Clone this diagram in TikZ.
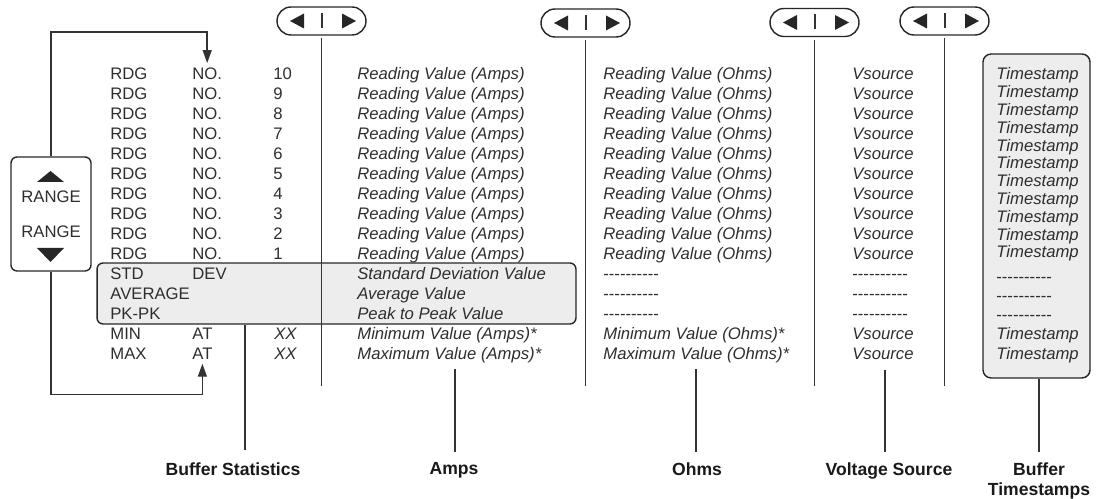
\documentclass[tikz,border=0pt]{standalone}
\usepackage{fontspec}
\setmainfont{Liberation Sans}
\usetikzlibrary{arrows.meta,positioning,calc}

\newcommand{\dashline}{-{}-{}-{}-{}-{}-{}-{}-{}-{}-}

\tikzset{
  cell/.style={anchor=base west, inner sep=0pt, text=black!82, font=\fontsize{9.5}{11}\selectfont},
  val/.style={cell, font=\fontsize{9.5}{11}\selectfont\itshape},
  lbl/.style={anchor=north, inner sep=0pt, align=center, text=black!90, font=\fontsize{10}{11.5}\selectfont\bfseries},
  keybox/.style={draw=black!85, line width=0.8pt, rounded corners=0.28cm, minimum width=1.78cm, minimum height=0.56cm, inner sep=0pt},
  ln/.style={draw=black!80, line width=0.8pt},
  greybox/.style={draw=black!85, fill=black!7, line width=0.8pt, inner sep=0pt},
  tip/.style={-{Triangle[length=0.26cm,width=0.18cm]}},
}

\begin{document}
\begin{tikzpicture}[x=0.02cm,y=-0.02cm]
\useasboundingbox (0,0) rectangle (1102,499);

% shaded boxes
\node[greybox, rounded corners=0.12cm, minimum width=9.58cm, minimum height=1.22cm] (statbox) at (336.5,293.5) {};
\node[greybox, rounded corners=0.16cm, minimum width=2.14cm, minimum height=6.48cm] (tsbox) at (1036.5,216) {};

% range key
\node[draw=black!85, line width=0.8pt, rounded corners=0.12cm, minimum width=1.6cm, minimum height=2.28cm] (range) at (51,214) {};
\fill[black!85] (37,182) -- (64,182) -- (50.5,171) -- cycle;
\node[cell, anchor=center] (rangeup) at (51,197) {RANGE};
\node[cell, anchor=center] (rangedn) at (51,232) {RANGE};
\fill[black!85] (37,248) -- (64,248) -- (50.5,262) -- cycle;

% reading rows
\foreach \i [evaluate=\i as \yy using 79.5+20*(\i-1), evaluate=\i as \n using int(11-\i)] in {1,...,10}{
  \node[cell] (rdg\i) at (110,\yy) {RDG};
  \node[cell] (no\i) at (192,\yy) {NO.};
  \node[cell] (num\i) at (273,\yy) {\n};
  \node[val] (amps\i) at (357,\yy) {Reading Value (Amps)};
  \node[val] (ohms\i) at (603,\yy) {Reading Value (Ohms)};
  \node[val] (vs\i) at (852,\yy) {Vsource};
}

% statistics rows
\node[cell] (std) at (110,279.5) {STD};
\node[cell] (dev) at (192,279.5) {DEV};
\node[cell] (avg) at (110,299.5) {AVERAGE};
\node[cell] (pkpk) at (110,319.5) {PK-PK};
\node[cell] (min) at (110,339.5) {MIN};
\node[cell] (at14) at (192,339.5) {AT};
\node[val] (xx14) at (274,339.5) {XX};
\node[cell] (max) at (110,359.5) {MAX};
\node[cell] (at15) at (192,359.5) {AT};
\node[val] (xx15) at (274,359.5) {XX};

\node[val] (stdval) at (357,279.5) {Standard Deviation Value};
\node[val] (avgval) at (357,299.5) {Average Value};
\node[val] (pkval) at (357,319.5) {Peak to Peak Value};
\node[val] (minamps) at (357,339.5) {Minimum Value (Amps)*};
\node[val] (maxamps) at (357,359.5) {Maximum Value (Amps)*};
\node[val] (minohms) at (603,339.5) {Minimum Value (Ohms)*};
\node[val] (maxohms) at (603,359.5) {Maximum Value (Ohms)*};
\node[val] (minvs) at (852,339.5) {Vsource};
\node[val] (maxvs) at (852,359.5) {Vsource};

\foreach \yy [count=\j] in {279.5,299.5,319.5}{
  \node[cell] (ohmsdash\j) at (603,\yy) {\dashline};
  \node[cell] (vsdash\j) at (852,\yy) {\dashline};
}
\foreach \yy [count=\j] in {283,302,321}
  \node[cell] (tsdash\j) at (996,\yy) {\dashline};

% timestamps
\foreach \i [evaluate=\i as \yy using 80+17.8*(\i-1)] in {1,...,11}
  \node[val] (ts\i) at (996,\yy) {Timestamp};
\node[val] (mints) at (996,339.5) {Timestamp};
\node[val] (maxts) at (996,359.5) {Timestamp};

% scroll keys with their column lines
\coordinate (base) at (0,386);
\foreach \k/\x/\y in {keya/321.5/21, keyb/585.5/23, keyc/814.5/22.5, keyd/944.5/21}{
  \node[keybox] (\k) at (\x,\y) {};
  \fill[black!85] (\x-31.5,\y) -- (\x-17.5,\y-7.5) -- (\x-17.5,\y+7.5) -- cycle;
  \fill[black!85] (\x+34.5,\y) -- (\x+20.5,\y-7.5) -- (\x+20.5,\y+7.5) -- cycle;
  \draw[ln] (\x+0.5,\y-8) -- (\x+0.5,\y+7);
  \draw[ln, shorten <=1.5pt] (\k.south) -- (\k.south |- base);
}

% range loop
\draw[ln, tip] (range.north) |- ([yshift=0.71cm]no1.north) -- ([yshift=2.5pt]no1.north);
\draw[ln, tip] (range.south) |- ([yshift=-0.69cm]at15.south) -- ([yshift=-2.2pt]at15.south);

% bottom labels
\node[lbl] (statslbl) at (233,462) {Buffer Statistics};
\node[lbl] (ampslbl) at (454,462) {Amps};
\node[lbl] (ohmslbl) at (697,462) {Ohms};
\node[lbl] (vslbl) at (889,462) {Voltage Source};
\node[lbl] (tslbl) at (1039,462) {Buffer\\Timestamps};

\coordinate (statsend) at (245,450);
\coordinate (ampstop) at (455,369);
\coordinate (ohmstop) at (696,369);
\coordinate (vstop) at (885,370);
\draw[ln] (statsend) -- (statsend |- statbox.south);
\draw[ln, shorten >=5.5pt] (ampstop) -- (ampstop |- ampslbl.north);
\draw[ln, shorten >=5.5pt] (ohmstop) -- (ohmstop |- ohmslbl.north);
\draw[ln, shorten >=5.5pt] (vstop) -- (vstop |- vslbl.north);
\draw[ln, shorten >=5.5pt] (tsbox.south -| tslbl.north) -- (tslbl.north);
\end{tikzpicture}
\end{document}
